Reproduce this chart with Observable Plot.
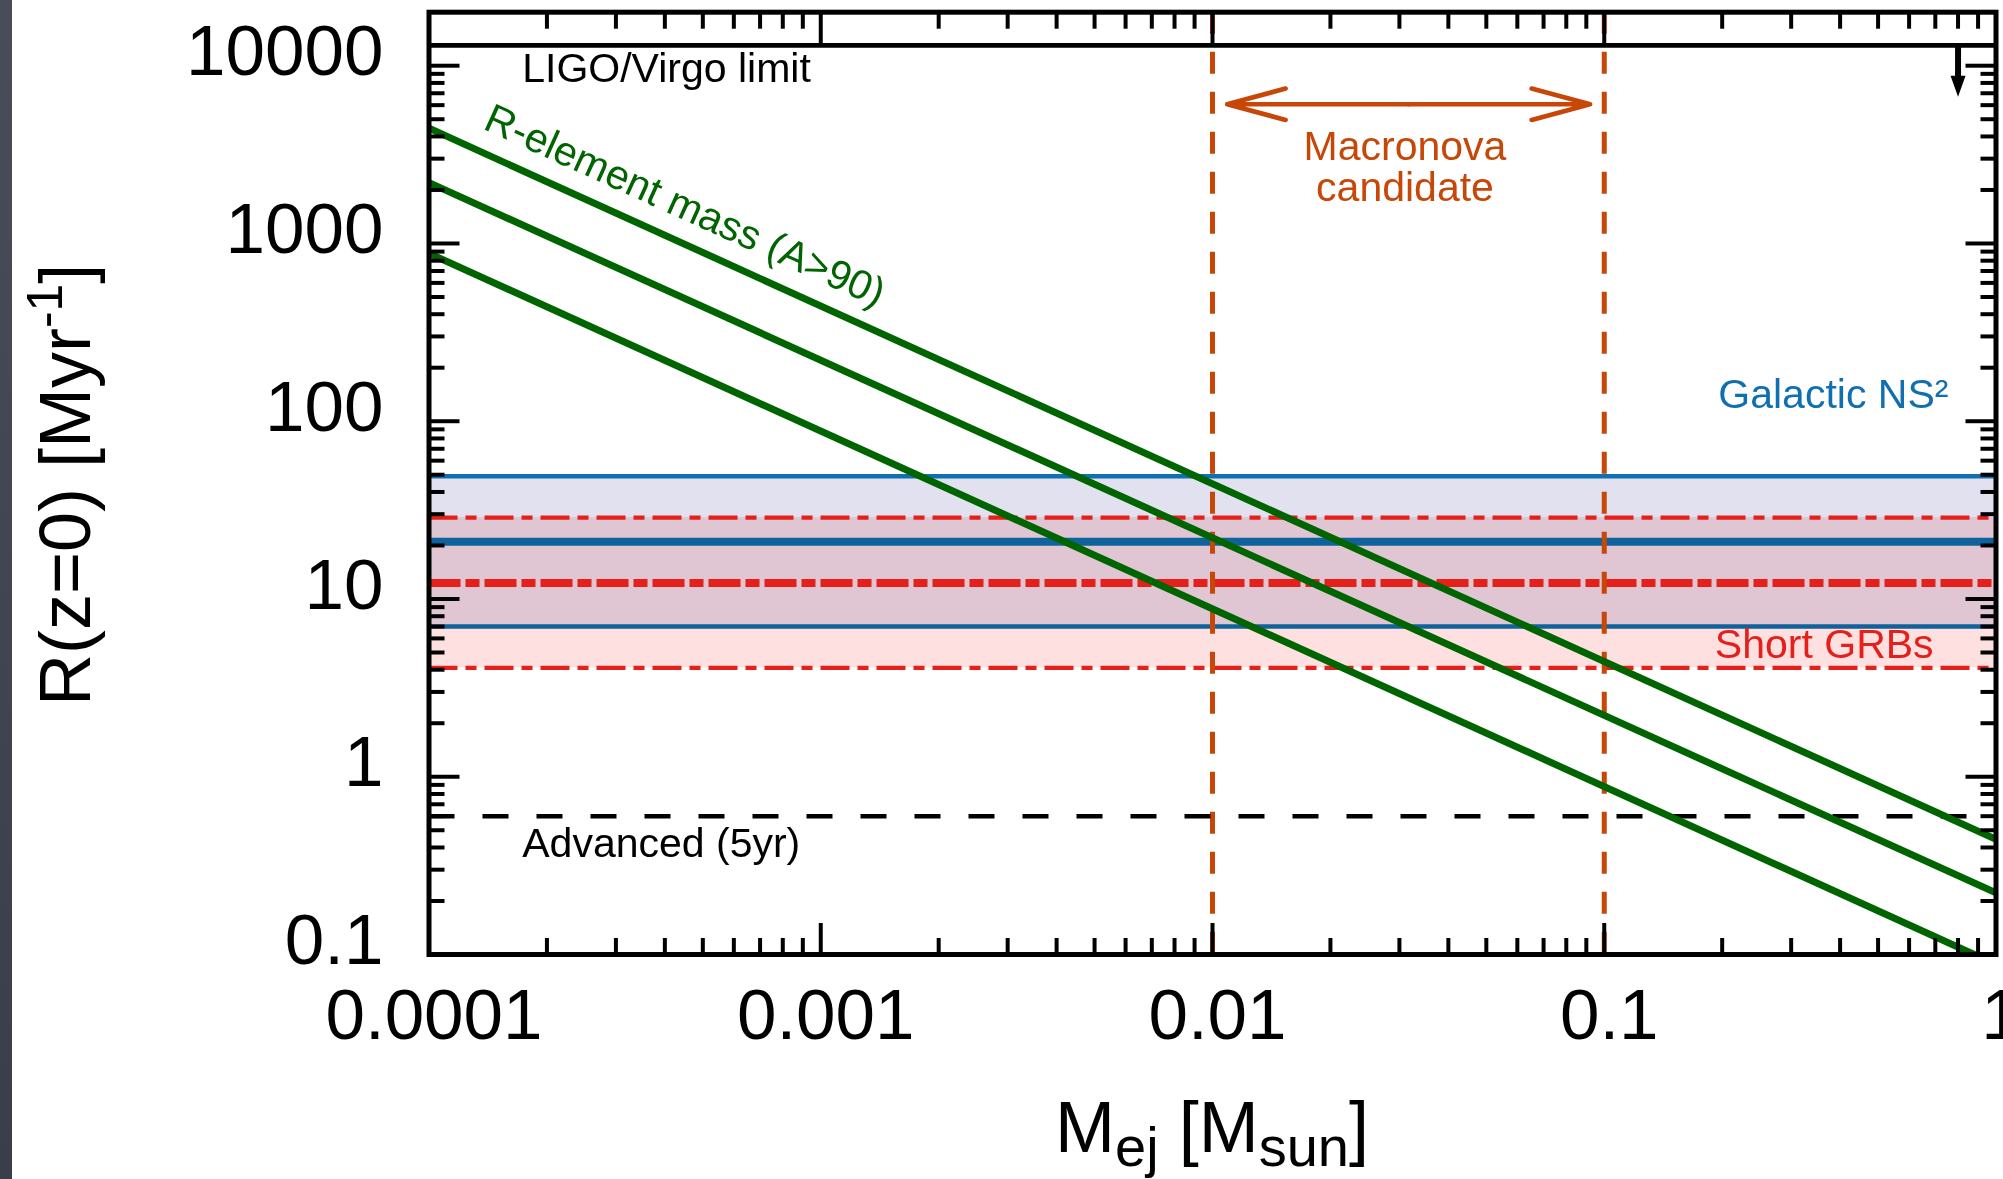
<!DOCTYPE html>
<html>
<head>
<meta charset="utf-8">
<script src="https://cdn.jsdelivr.net/npm/d3@7"></script>
<script src="https://cdn.jsdelivr.net/npm/@observablehq/plot@0.6"></script>
<style>
  html, body { margin: 0; padding: 0; background: #fff; overflow: hidden; }
  #strip { position: absolute; left: 0; top: 0; width: 12px; height: 1179px; background: linear-gradient(#4a4d59, #3b3e49); z-index: 2; }
  #chart { position: absolute; left: 0; top: 0; }
</style>
</head>
<body>
<div id="strip"></div>
<div id="chart"></div>
<script>
// Axes: ejecta mass (M_sun) and merger rate at z = 0 (per Myr)
const massDomain = [1e-4, 1];
const rateDomain = [0.1, 2e4];
const massTicks = [1e-4, 1e-3, 1e-2, 1e-1, 1];
const massTickLabels = ["0.0001", "0.001", "0.01", "0.1", "1"];
const rateTicks = [0.1, 1, 10, 100, 1000, 10000];
const rateTickLabels = ["0.1", "1", "10", "100", "1000", "10000"];

// Rate constraints: median with lower/upper bounds
const bandNames = ["Galactic NS²", "Short GRBs"];
const bandMedian = [21, 12.3];
const bandLow = [7.0, 4.1];
const bandHigh = [49, 28.7];
const bandLabelMass = [0.756, 0.693];
const bandLabelRate = [140, 5.5];

// r-process element mass budget: rate needed versus ejecta mass (three levels)
const rElementMass = [1e-4, 1];
const rElementHigh = [4450, 0.445];
const rElementMid = [2200, 0.222];
const rElementLow = [880, 0.088];
const rElementLabel = "R-element mass (A>90)";
const rElementLabelMass = 4.5e-4;
const rElementLabelRate = 1624;

// Gravitational-wave detector limits
const ligoVirgoLimit = 13000;
const ligoArrowMass = 0.8;
const ligoArrowTip = 6700;
const advancedLimit = 0.6;
const detectorLabelMass = 1.73e-4;
const ligoLabelRate = 9600;
const advancedLabelRate = 0.42;

// Macronova candidate ejecta mass range
const macronovaEdges = [0.01, 0.1];
const macronovaArrowEnds = [0.0109, 0.092];
const macronovaArrowRate = 6070;
const macronovaLabelMass = 0.031;
const macronovaLabelRate = 2690;

// Minor ticks of a log axis: 2..9 times each power of ten
function minorTicks([lo, hi]) {
  const out = [];
  for (let e = Math.floor(Math.log10(lo)); e < Math.ceil(Math.log10(hi)); e++) {
    for (let m = 2; m <= 9; m++) {
      const v = m * Math.pow(10, e);
      if (v > lo && v < hi) out.push(v);
    }
  }
  return out;
}
const massMinor = minorTicks(massDomain);
const rateMinor = minorTicks(rateDomain);

const W = 2003, H = 1179;
const mL = 428.5, mR = 7.5, mT = 11.7, mB = 225;

const blue = "#0f6fb0";
const red = "#e5201a";
const orange = "#c64708";
const green = "#006400";
const font = "'Liberation Sans', Arial, Helvetica, sans-serif";

const rLines = [rElementHigh, rElementMid, rElementLow].flatMap((rates, k) =>
  rElementMass.map((m, i) => ({level: k, mass: m, rate: rates[i]})));

const bands = bandNames.map((name, i) => ({
  name, median: bandMedian[i], low: bandLow[i], high: bandHigh[i],
  labelMass: bandLabelMass[i], labelRate: bandLabelRate[i]
}));

const arrowMid = Math.sqrt(macronovaArrowEnds[0] * macronovaArrowEnds[1]);
const macronovaArrows = macronovaArrowEnds.map((m) => ({from: arrowMid, to: m}));

// Narrow solid arrowhead pointing down, tip at the origin
const downHead = {
  draw(ctx) { ctx.moveTo(0, 0); ctx.lineTo(-7.5, -21); ctx.lineTo(7.5, -21); ctx.closePath(); }
};

const tickAxes = [];
for (const anchor of ["bottom", "top"]) {
  tickAxes.push(Plot.axisX(massTicks, {anchor, tickSize: -31, strokeWidth: 4, fill: "none", label: null}));
  tickAxes.push(Plot.axisX(massMinor, {anchor, tickSize: -16, strokeWidth: 4, fill: "none", label: null}));
}
for (const anchor of ["left", "right"]) {
  tickAxes.push(Plot.axisY(rateTicks, {anchor, tickSize: -31, strokeWidth: 4, fill: "none", label: null}));
  tickAxes.push(Plot.axisY(rateMinor, {anchor, tickSize: -16, strokeWidth: 4, fill: "none", label: null}));
}

const chart = Plot.plot({
  width: W, height: H,
  marginLeft: mL, marginRight: mR, marginTop: mT, marginBottom: mB,
  x: {type: "log", domain: massDomain},
  y: {type: "log", domain: rateDomain},
  style: {background: "white", fontFamily: font, maxWidth: "none", overflow: "hidden"},
  marks: [
    // Galactic double neutron star band
    Plot.rect([bands[0]], {x1: () => massDomain[0], x2: () => massDomain[1], y1: "low", y2: "high", fill: "#e1e1f0"}),
    Plot.ruleY([bands[0]], {y: "high", stroke: blue, strokeWidth: 4.5}),
    Plot.ruleY([bands[0]], {y: "low", stroke: blue, strokeWidth: 4.5}),
    Plot.ruleY([bands[0]], {y: "median", stroke: blue, strokeWidth: 8}),
    // Short GRB band, multiplied over the Galactic band
    Plot.rect([bands[1]], {x1: () => massDomain[0], x2: () => massDomain[1], y1: "low", y2: "high", fill: "#fee0e1", mixBlendMode: "multiply"}),
    Plot.ruleY([bands[1]], {y: "high", stroke: red, strokeWidth: 4.3, strokeDasharray: "29,8,11,8"}),
    Plot.ruleY([bands[1]], {y: "low", stroke: red, strokeWidth: 4.3, strokeDasharray: "29,8,11,8"}),
    Plot.ruleY([bands[1]], {y: "median", stroke: red, strokeWidth: 8, strokeDasharray: "32,5,14,5"}),
    // Macronova mass range
    Plot.ruleX(macronovaEdges, {stroke: orange, strokeWidth: 5, strokeDasharray: "22,18"}),
    Plot.arrow(macronovaArrows, {x1: "from", x2: "to", y1: () => macronovaArrowRate, y2: () => macronovaArrowRate,
      stroke: orange, strokeWidth: 4.7, headAngle: 30, headLength: 40}),
    // Detector limits
    Plot.ruleY([advancedLimit], {stroke: "black", strokeWidth: 4.5, strokeDasharray: "26,28"}),
    Plot.ruleY([ligoVirgoLimit], {stroke: "black", strokeWidth: 4.7}),
    Plot.ruleX([ligoArrowMass], {y1: () => ligoVirgoLimit, y2: () => ligoArrowTip * 1.25, stroke: "black", strokeWidth: 6}),
    Plot.dot([ligoArrowMass], {x: (d) => d, y: () => ligoArrowTip, symbol: downHead, fill: "black", stroke: "none"}),
    // r-process mass budget lines
    Plot.line(rLines, {x: "mass", y: "rate", z: "level", stroke: green, strokeWidth: 7, clip: true}),
    // Annotations
    Plot.text([rElementLabel], {x: () => rElementLabelMass, y: () => rElementLabelRate, text: (d) => d,
      rotate: 24.4, fill: green, fontSize: 41, textAnchor: "middle"}),
    Plot.text(["LIGO/Virgo limit"], {x: () => detectorLabelMass, y: () => ligoLabelRate, text: (d) => d,
      fill: "black", fontSize: 41, textAnchor: "start"}),
    Plot.text(["Advanced (5yr)"], {x: () => detectorLabelMass, y: () => advancedLabelRate, text: (d) => d,
      fill: "black", fontSize: 41, textAnchor: "start"}),
    Plot.text(["Macronova\ncandidate"], {x: () => macronovaLabelMass, y: () => macronovaLabelRate, text: (d) => d,
      fill: orange, fontSize: 41, lineHeight: 1.02, textAnchor: "middle"}),
    Plot.text([bands[0]], {x: "labelMass", y: "labelRate", text: "name", fill: blue, fontSize: 41, textAnchor: "end"}),
    Plot.text([bands[1]], {x: "labelMass", y: "labelRate", text: "name", fill: red, fontSize: 41, textAnchor: "end"}),
    // Frame and inward ticks on all four sides
    Plot.frame({stroke: "black", strokeWidth: 5}),
    ...tickAxes,
    // Tick labels
    Plot.axisX(massTicks, {anchor: "bottom", tickSize: 0, tickPadding: 34, dx: 5, fontSize: 71,
      tickFormat: (d) => massTickLabels[massTicks.indexOf(d)], label: null, fill: "black"}),
    Plot.axisY(rateTicks, {anchor: "left", tickSize: 0, tickPadding: 45.5, dy: -13, fontSize: 71,
      tickFormat: (d) => rateTickLabels[rateTicks.indexOf(d)], label: null, fill: "black"})
  ]
});

// Axis titles with sub- and superscripts
const svg = d3.select(chart);
const xTitle = svg.append("text")
  .attr("x", (mL + W - mR) / 2)
  .attr("y", H - mB + 198)
  .attr("text-anchor", "middle")
  .attr("font-size", 72)
  .attr("font-family", font)
  .attr("fill", "black");
xTitle.append("tspan").text("M");
xTitle.append("tspan").attr("font-size", 56).attr("dy", 14).text("ej");
xTitle.append("tspan").attr("dy", -14).text(" [M");
xTitle.append("tspan").attr("font-size", 56).attr("dy", 14).text("sun");
xTitle.append("tspan").attr("dy", -14).text("]");

const yTitle = svg.append("text")
  .attr("transform", `translate(${mL - 338.5},${(mT + H - mB) / 2 + 2}) rotate(-90)`)
  .attr("text-anchor", "middle")
  .attr("font-size", 72)
  .attr("font-family", font)
  .attr("fill", "black");
yTitle.append("tspan").text("R(z=0) [Myr");
yTitle.append("tspan").attr("font-size", 50).attr("dy", -28).text("-1");
yTitle.append("tspan").attr("dy", 28).text("]");

document.getElementById("chart").append(chart);
</script>
</body>
</html>
